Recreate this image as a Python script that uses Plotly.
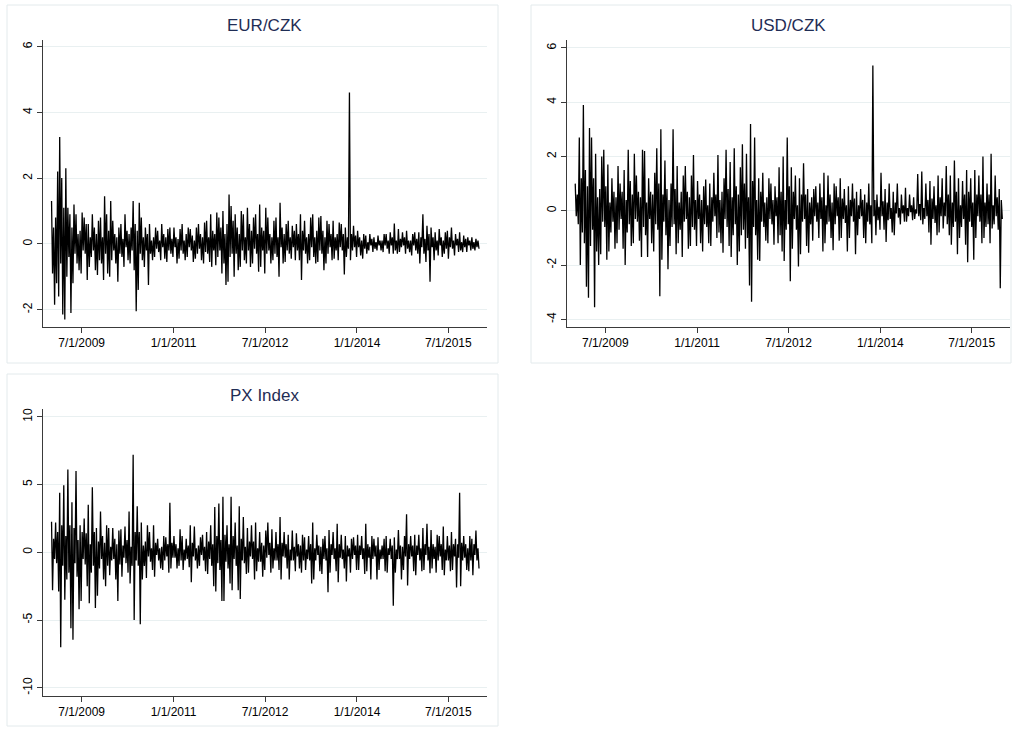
import pandas as pd
import plotly.graph_objects as go

# ---- data (daily returns; one row per year 2009..2015) ----
eur_czk = [
    1.3,-0.9,0.5,-1.85, 0.8,-1.2,2.2,-1.6, 3.25,-0.6,2.0,-2.15, 1.1,-2.3,2.3,-1.0, 1.1,-0.4,0.9,-2.1, 0.5,-1.2,1.2,-0.3, 0.9,-0.6,0.3,-0.8, 0.4,-0.9,0.95,-0.2, 0.8,-0.3,0.6,-1.1, 0.6,-0.7,0.2,-0.4, 0.9,-0.2,0.5,-0.8, 0.3,-0.95,0.7,-0.5, 0.8,-0.6,0.2,-1.1, 1.45,-0.3,0.9,-0.9, 0.4,-1.0,1.3,-0.5,
    0.7,-0.2,0.3,-0.6, 0.2,-1.15,0.5,-0.3, 0.6,-0.4,0.15,-0.7, 0.9,-0.1,0.4,-0.5, 0.3,-0.6,0.5,-0.2, 1.3,-0.8,0.6,-2.05, 0.4,-1.4,1.25,-0.3, 0.8,-0.5,0.2,-0.7, 0.5,-0.2,0.3,-1.25, 0.6,-0.3,0.1,-0.5, 0.2,-0.4,0.5,-0.15, 0.4,-0.25,0.1,-0.5, 0.6,-0.1,0.3,-0.45, 0.2,-0.55,0.45,-0.2, 0.5,-0.3,0.15,-0.4,
    0.5,-0.1,0.2,-0.6, 0.15,-0.45,0.45,-0.2, 0.6,-0.3,0.1,-0.5, 0.3,-0.4,0.5,-0.1, 0.45,-0.2,0.25,-0.55, 0.1,-0.45,0.5,-0.3, 0.6,-0.15,0.3,-0.5, 0.2,-0.6,0.65,-0.25, 0.7,-0.3,0.2,-0.55, 0.9,-0.7,0.4,-0.2, 0.3,-0.65,0.95,-0.4, 0.8,-0.2,0.5,-0.9, 1.0,-0.6,0.3,-1.25, 0.6,-1.15,1.5,-0.4, 1.15,-0.3,0.7,-1.0,
    0.9,-0.3,0.5,-0.8, 0.3,-0.7,1.0,-0.2, 0.9,-0.5,0.2,-0.6, 1.1,-0.2,0.6,-0.7, 0.4,-0.6,0.8,-0.15, 0.9,-0.3,0.3,-0.85, 1.2,-0.7,0.5,-0.2, 0.4,-0.9,1.1,-0.3, 0.8,-0.2,0.3,-0.6, 0.2,-0.5,0.7,-0.3, 0.8,-0.4,0.2,-1.0, 1.25,-0.1,0.5,-0.6, 0.3,-0.55,0.6,-0.2, 0.7,-0.3,0.2,-0.45, 0.55,-0.1,0.4,-0.5,
    0.6,-0.2,0.3,-0.5, 0.9,-1.1,0.4,-0.2, 0.7,-0.3,0.2,-0.6, 0.3,-0.5,0.8,-0.1, 0.9,-0.4,0.2,-0.6, 0.4,-0.55,0.8,-0.2, 0.85,-0.3,0.4,-0.8, 0.2,-0.6,0.7,-0.3, 0.6,-0.1,0.3,-0.5, 0.7,-0.45,0.2,-0.2, 0.3,-0.5,0.65,-0.1, 0.6,-0.2,0.3,-0.93, 0.5,-0.4,0.2,-0.15, 4.6,-0.5,0.3,-0.2, 0.55,-0.1,0.25,-0.4,
    0.4,-0.1,0.2,-0.35, 0.1,-0.45,0.3,-0.15, 0.25,-0.3,0.05,-0.2, 0.3,-0.05,0.15,-0.25, 0.2,-0.15,0.05,-0.2, 0.25,-0.05,0.1,-0.2, 0.1,-0.25,0.3,-0.05, 0.3,-0.15,0.1,-0.3, 0.35,-0.05,0.2,-0.3, 0.62,-0.2,0.1,-0.3, 0.45,-0.25,0.15,-0.1, 0.35,-0.05,0.2,-0.3, 0.4,-0.15,0.1,-0.25, 0.1,-0.35,0.3,-0.05, 0.35,-0.2,0.15,-0.3,
    0.35,-0.6,0.2,-0.1, 0.9,-0.3,0.15,-0.55, 0.55,-0.2,0.3,-1.15, 0.5,-0.1,0.2,-0.5, 0.35,-0.2,0.1,-0.35, 0.45,-0.05,0.2,-0.4, 0.1,-0.3,0.35,-0.15, 0.4,-0.45,0.2,-0.1, 0.5,-0.15,0.1,-0.35, 0.3,-0.05,0.15,-0.25, 0.35,-0.2,0.05,-0.25, 0.25,-0.1,0.15,-0.25, 0.2,-0.05,0.1,-0.2, 0.2,-0.15,0.05,-0.2, 0.15,-0.1,0.1,-0.15,
]
usd_czk = [
    1.0,-0.2,0.6,-0.5, 2.7,-2.0,1.2,-0.8, 3.9,-1.2,1.5,-2.8, 0.9,-3.2,3.05,-1.3, 2.7,-0.7,1.2,-3.55, 2.1,-1.5,0.5,-2.0, 0.8,-1.6,2.0,-0.4, 2.25,-0.6,0.9,-1.8, 1.7,-1.5,0.3,-0.8, 1.2,-0.4,0.7,-1.4, 0.5,-1.2,1.65,-0.7, 1.0,-0.3,0.7,-1.4, 1.5,-2.0,0.4,-0.8, 2.25,-0.5,1.1,-1.3, 0.6,-1.2,2.1,-0.3,
    1.3,-0.4,0.7,-1.1, 0.5,-1.7,2.25,-0.6, 2.2,-0.9,0.3,-1.7, 1.2,-0.3,0.7,-1.2, 0.6,-1.5,1.4,-0.5, 2.3,-0.7,1.0,-3.15, 3.0,-1.8,0.6,-0.4, 1.85,-0.9,0.8,-2.15, 0.4,-1.3,1.0,-0.6, 3.0,-0.5,0.8,-1.6, 1.65,-1.2,0.3,-0.7, 0.7,-1.7,1.3,-0.4, 1.65,-0.3,0.7,-1.4, 0.5,-1.3,1.3,-0.6, 2.05,-0.7,0.4,-1.3,
    1.1,-0.3,0.6,-1.2, 0.4,-1.5,0.9,-0.5, 1.15,-0.6,0.2,-1.2, 1.0,-1.3,0.5,-0.4, 1.4,-0.2,0.6,-1.0, 2.05,-0.8,0.4,-1.2, 0.7,-1.55,1.2,-0.3, 2.25,-0.6,0.8,-1.3, 1.8,-1.7,0.5,-0.9, 2.3,-0.5,0.9,-2.0, 0.6,-1.5,1.6,-0.9, 2.45,-0.7,1.0,-1.4, 2.1,-1.0,0.5,-2.75, 3.2,-3.35,1.1,-0.6, 2.7,-0.9,0.4,-1.8,
    1.2,-1.85,0.7,-0.4, 1.4,-0.6,0.3,-1.1, 0.5,-1.2,1.2,-0.3, 1.0,-0.5,0.4,-1.25, 0.9,-0.2,0.5,-1.2, 1.6,-0.9,0.7,-1.5, 2.0,-1.85,0.4,-0.7, 2.7,-0.5,0.9,-2.6, 1.6,-1.4,0.7,-0.3, 1.3,-0.7,0.2,-2.05, 1.2,-1.6,0.6,-0.4, 1.75,-0.3,0.6,-1.3, 0.8,-1.55,0.3,-0.5, 0.5,-1.1,0.8,-0.2, 0.9,-0.4,0.3,-1.0,
    1.0,-0.3,0.5,-1.5, 1.4,-1.2,0.2,-0.5, 1.3,-0.4,0.6,-1.0, 0.3,-1.45,1.0,-0.5, 0.9,-0.2,0.5,-1.1, 1.2,-1.0,0.45,-0.3, 0.8,-0.45,0.2,-1.5, 0.9,-1.0,0.4,-0.2, 1.0,-0.4,0.45,-1.6, 0.7,-0.9,0.2,-0.3, 0.8,-0.2,0.4,-1.0, 0.6,-1.2,0.3,-0.4, 1.0,-0.5,0.2,-1.2, 5.35,-0.2,0.4,-0.9, 0.6,-0.35,0.15,-0.7,
    1.4,-0.2,0.35,-0.7, 0.8,-1.15,0.3,-0.35, 1.0,-0.3,0.1,-0.8, 0.7,-0.9,0.3,-0.1, 1.0,-0.25,0.1,-0.5, 0.6,-0.1,0.2,-0.4, 0.85,-0.4,0.1,-0.2, 0.6,-0.05,0.2,-0.35, 0.5,-0.3,0.05,-0.1, 1.35,-0.2,0.25,-0.35, 1.45,-0.5,0.1,-0.3, 1.0,-0.2,0.4,-0.8, 1.1,-1.25,0.45,-0.3, 0.9,-0.45,0.2,-0.9, 1.3,-0.8,0.5,-0.2,
    1.2,-0.65,0.3,-0.2, 1.65,-0.5,0.6,-0.9, 1.3,-1.25,0.3,-0.6, 1.85,-0.4,0.7,-1.6, 1.2,-1.0,0.2,-0.6, 1.1,-0.3,0.6,-1.25, 1.5,-1.9,0.7,-0.4, 1.2,-0.6,0.3,-1.8, 1.5,-1.0,0.6,-0.2, 1.3,-0.4,0.6,-1.2, 2.0,-1.0,0.3,-0.6, 1.0,-0.5,0.6,-1.2, 2.1,-0.65,0.2,-0.5, 1.3,-0.2,0.5,-0.7, 0.8,-2.85,0.4,-0.3,
]
px_index = [
    2.25,-2.8,1.0,-0.5, 2.2,-0.8,1.5,-2.9, 4.4,-7.0,2.0,-1.0, 4.95,-3.5,1.2,-2.0, 6.1,-1.5,2.0,-5.6, 3.7,-6.45,1.8,-0.8, 6.0,-1.8,0.9,-4.2, 2.0,-3.6,1.5,-0.5, 2.5,-0.9,1.4,-2.5, 3.5,-3.75,0.6,-1.5, 4.8,-1.0,1.5,-4.1, 1.8,-3.2,0.8,-1.2, 3.0,-0.5,1.2,-2.0, 0.7,-2.5,2.0,-1.0, 1.8,-1.7,0.4,-0.6,
    1.8,-0.5,1.0,-2.0, 0.6,-3.6,1.6,-0.9, 1.7,-1.8,0.5,-0.4, 1.9,-0.8,0.9,-1.5, 3.0,-2.3,0.4,-1.0, 7.2,-5.0,1.5,-0.6, 3.4,-1.0,1.5,-5.3, 2.2,-2.0,0.5,-1.0, 0.8,-1.9,2.0,-0.3, 1.5,-0.7,0.3,-1.3, 2.0,-1.8,0.7,-0.2, 1.0,-0.6,0.3,-1.2, 0.4,-1.3,1.2,-0.6, 1.1,-0.3,0.6,-1.5, 3.65,-1.2,0.7,-0.4,
    1.2,-0.4,0.6,-1.2, 0.3,-1.0,1.7,-0.6, 1.2,-1.3,0.2,-0.6, 1.0,-0.5,0.5,-1.1, 2.0,-2.2,0.7,-0.3, 1.9,-0.6,0.3,-1.2, 0.5,-1.0,1.1,-0.2, 1.3,-0.6,0.4,-1.4, 1.5,-1.6,0.8,-0.5, 2.0,-1.0,0.6,-2.5, 3.35,-2.9,1.2,-0.8, 3.6,-1.3,0.9,-3.6, 4.1,-3.6,1.3,-0.7, 2.0,-1.2,0.6,-2.3, 4.1,-2.8,1.2,-0.5,
    2.2,-1.0,0.5,-2.8, 3.4,-3.45,1.0,-0.6, 2.6,-0.8,0.4,-1.6, 1.8,-1.5,0.8,-0.3, 2.0,-0.5,0.8,-2.0, 2.2,-1.4,0.3,-0.7, 1.5,-0.7,0.7,-1.8, 0.5,-1.3,1.6,-0.4, 2.2,-0.2,0.7,-1.5, 1.7,-1.2,0.3,-0.6, 1.5,-0.6,0.6,-1.3, 2.6,-2.0,0.7,-0.3, 1.5,-0.4,0.6,-1.2, 1.3,-2.0,0.2,-0.6, 1.6,-0.6,0.4,-1.4,
    1.4,-0.3,0.6,-1.2, 0.5,-1.5,1.3,-0.6, 1.1,-1.3,0.2,-0.5, 1.2,-0.6,0.6,-2.3, 2.2,-2.0,0.3,-0.6, 1.3,-0.2,0.5,-1.4, 0.4,-1.6,1.0,-0.5, 1.2,-0.6,0.3,-2.95, 1.65,-1.5,0.6,-0.2, 1.5,-0.5,0.3,-1.4, 2.1,-2.2,0.6,-0.4, 1.3,-0.5,0.2,-1.2, 1.2,-2.15,0.5,-0.3, 0.3,-1.5,1.0,-0.5, 1.1,-0.2,0.5,-1.3,
    1.3,-1.3,0.5,-0.2, 1.2,-0.5,0.3,-1.6, 2.1,-1.4,0.6,-0.4, 0.4,-2.0,1.2,-0.5, 1.0,-0.3,0.5,-2.0, 1.1,-1.3,0.2,-0.5, 0.5,-0.5,1.0,-1.4, 1.2,-1.5,0.3,-0.2, 1.0,-0.5,0.5,-3.95, 1.1,-1.5,0.2,-0.5, 1.65,-0.5,0.5,-2.0, 0.4,-1.3,1.2,-0.3, 2.8,-2.45,0.6,-0.5, 1.2,-0.3,0.5,-1.4, 1.3,-1.7,0.5,-0.2,
    1.3,-0.6,0.3,-1.4, 1.8,-1.3,0.6,-0.2, 2.1,-0.6,0.4,-1.55, 1.65,-1.2,0.6,-0.5, 0.4,-1.5,1.3,-0.6, 1.2,-0.3,0.6,-1.3, 1.9,-1.7,0.2,-0.6, 1.2,-0.6,0.5,-1.4, 1.5,-1.3,0.6,-0.3, 1.0,-2.6,0.6,-0.4, 4.4,-2.5,0.7,-0.6, 1.2,-0.4,0.6,-1.3, 0.3,-1.4,1.2,-0.6, 1.0,-1.7,0.6,-0.2, 1.6,-0.6,0.3,-1.2,
]
start_date, end_date = "2009-01-02", "2015-12-31"
titles = ["EUR/CZK", "USD/CZK", "PX Index"]
x_tick_vals = ["2009-07-01", "2011-01-01", "2012-07-01", "2014-01-01", "2015-07-01"]
x_tick_text = ["7/1/2009", "1/1/2011", "7/1/2012", "1/1/2014", "7/1/2015"]
y_ticks = [[-2, 0, 2, 4, 6], [-4, -2, 0, 2, 4, 6], [-10, -5, 0, 5, 10]]

# ---- layout constants ----
W, H = 1014, 729
FONT = "Liberation Sans, Arial, Helvetica, sans-serif"
TITLE_COLOR = "#1f2d55"
GRID = "#e9f0f1"
BORDER = "#e3eaec"
AXIS = "#3a3a3a"
x_range = ["2008-11-12", "2016-02-15"]
y_ranges = [[-2.52, 6.2], [-4.27, 6.29], [-10.58, 10.55]]

# plot areas in pixels: (left, right, top, bottom)
areas = [(43, 486.7, 40, 326.7), (566.7, 1010, 40, 326.7), (43, 486.7, 409.3, 695.7)]
boxes = [(7, 498, 5, 363), (531, 1011, 5, 363), (7, 498, 374, 726)]

series = [eur_czk, usd_czk, px_index]

fig = go.Figure()
layout = dict(
    width=W, height=H, margin=dict(l=0, r=0, t=0, b=0),
    paper_bgcolor="white", plot_bgcolor="white", showlegend=False,
    font=dict(family=FONT, size=12, color="black"),
)
shapes, annotations = [], []
for i, (vals, title) in enumerate(zip(series, titles)):
    n = "" if i == 0 else str(i + 1)
    dates = pd.date_range(start_date, end_date, periods=len(vals))
    fig.add_trace(go.Scatter(x=dates, y=vals, mode="lines",
                             line=dict(color="black", width=1.3),
                             xaxis="x" + n, yaxis="y" + n, hoverinfo="skip"))
    l, r, t, b = areas[i]
    layout["xaxis" + n] = dict(
        domain=[l / W, r / W], anchor="y" + n, type="date", range=x_range,
        tickvals=x_tick_vals, ticktext=x_tick_text, ticks="outside", ticklen=5,
        tickcolor=AXIS, showline=True, linecolor=AXIS, linewidth=1,
        showgrid=False, zeroline=False, tickfont=dict(size=12, color="black"),
    )
    layout["yaxis" + n] = dict(
        domain=[1 - b / H, 1 - t / H], anchor="x" + n, range=y_ranges[i],
        tickvals=y_ticks[i], ticktext=[str(v) for v in y_ticks[i]],
        ticks="outside", ticklen=5, tickcolor=AXIS, tickangle=-90,
        showline=True, linecolor=AXIS, linewidth=1,
        showgrid=True, gridcolor=GRID, gridwidth=1, zeroline=False,
        tickfont=dict(size=12, color="black"),
    )
    bl, br, bt, bb = boxes[i]
    shapes.append(dict(type="rect", xref="paper", yref="paper",
                       x0=bl / W, x1=br / W, y0=1 - bb / H, y1=1 - bt / H,
                       line=dict(color=BORDER, width=1), layer="below"))
    annotations.append(dict(text=title, xref="paper", yref="paper",
                            x=(l + r) / 2 / W, y=1 - (bt + 21) / H,
                            xanchor="center", yanchor="middle", showarrow=False,
                            font=dict(family=FONT, size=17, color=TITLE_COLOR)))

layout["shapes"] = shapes
layout["annotations"] = annotations
fig.update_layout(**layout)
fig.write_html("out.html", config={"displayModeBar": False},
               post_script="document.body.style.margin='0';document.body.style.padding='0';")
